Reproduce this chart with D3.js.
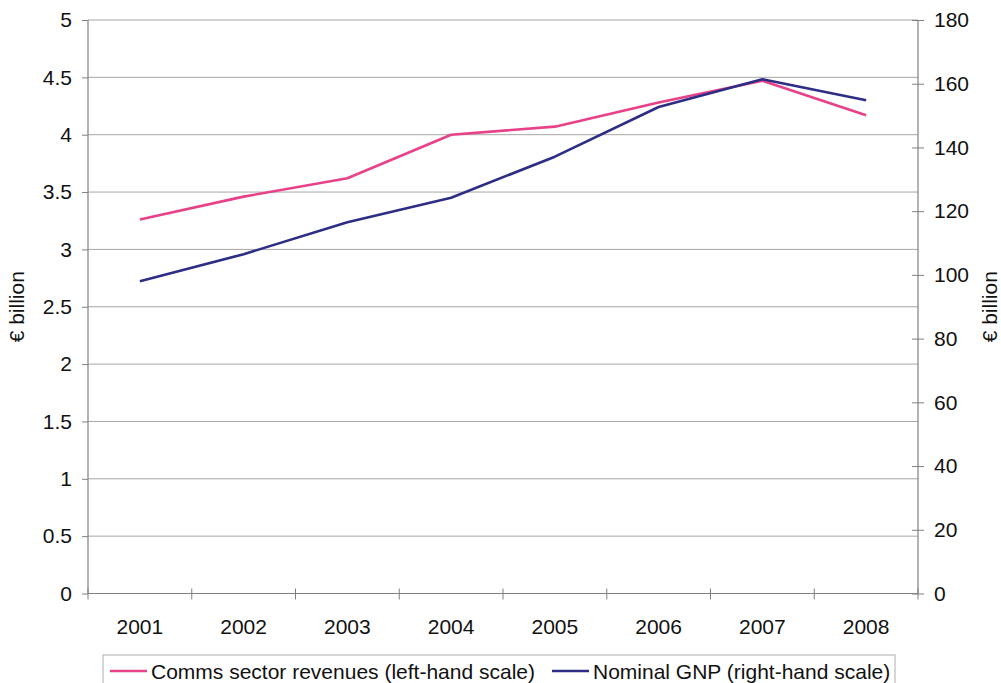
<!DOCTYPE html>
<html>
<head>
<meta charset="utf-8">
<script src="https://cdn.jsdelivr.net/npm/d3@7/dist/d3.min.js"></script>
<style>
  html, body { margin: 0; padding: 0; background: #fff; }
  svg { display: block; font-family: "Liberation Sans", Arial, sans-serif; }
</style>
</head>
<body>
<svg id="chart" width="1001" height="683"></svg>
<script>
// Years on the category axis
const years = ["2001", "2002", "2003", "2004", "2005", "2006", "2007", "2008"];
// Communications sector revenues, € billion (left-hand scale)
const commsRevenue = [3.26, 3.46, 3.62, 4.0, 4.07, 4.28, 4.47, 4.17];
// Nominal GNP, € billion (right-hand scale)
const nominalGNP = [98.0, 106.5, 116.5, 124.2, 137.1, 152.7, 161.4, 154.8];
// Axis tick values
const leftTicks = [0, 0.5, 1, 1.5, 2, 2.5, 3, 3.5, 4, 4.5, 5];
const rightTicks = [0, 20, 40, 60, 80, 100, 120, 140, 160, 180];
// Legend entries
const legendLabels = ["Comms sector revenues (left-hand scale)", "Nominal GNP (right-hand scale)"];

const pink = "#e8418a";
const navy = "#2d2d86";
const fontSize = 21;

const svg = d3.select("#chart");
const plot = { left: 88, right: 918, top: 20, bottom: 593.5 };

const x = d3.scaleBand().domain(years).range([plot.left, plot.right]);
const yL = d3.scaleLinear().domain([0, 5]).range([plot.bottom, plot.top]);
const yR = d3.scaleLinear().domain([0, 180]).range([plot.bottom, plot.top]);

// Horizontal gridlines
svg.append("g")
  .selectAll("line")
  .data(leftTicks.filter(d => d > 0))
  .join("line")
  .attr("x1", plot.left).attr("x2", plot.right)
  .attr("y1", d => yL(d)).attr("y2", d => yL(d))
  .attr("stroke", "#a6a6a6").attr("stroke-width", 1);

// Left axis
const gL = svg.append("g").attr("transform", `translate(${plot.left},0)`)
  .call(d3.axisLeft(yL).tickValues(leftTicks).tickFormat(d3.format("")).tickSize(6).tickPadding(10));
// Right axis
const gR = svg.append("g").attr("transform", `translate(${plot.right},0)`)
  .call(d3.axisRight(yR).tickValues(rightTicks).tickFormat(d3.format("d")).tickSize(6).tickPadding(10));
gR.selectAll(".tick line").attr("x1", -6);

// Bottom axis: ticks on category boundaries
const gB = svg.append("g").attr("transform", `translate(0,${plot.bottom})`)
  .call(d3.axisBottom(x).tickSize(0).tickPadding(26));
gB.append("g").selectAll("line")
  .data(d3.range(years.length + 1))
  .join("line")
  .attr("x1", i => plot.left + i * x.step()).attr("x2", i => plot.left + i * x.step())
  .attr("y1", -5).attr("y2", 6)
  .attr("stroke", "#808080");

[gL, gR, gB].forEach(g => {
  g.select(".domain").attr("stroke", "#808080").attr("stroke-width", 1.2);
  g.selectAll(".tick line").attr("stroke", "#808080");
  g.selectAll("text").attr("font-size", fontSize).attr("fill", "#111")
    .attr("font-family", "'Liberation Sans', Arial, sans-serif");
});
gL.select(".domain").attr("d", `M0,${plot.bottom}V${plot.top}`);
gR.select(".domain").attr("d", `M0,${plot.bottom}V${plot.top}`);
gB.select(".domain").attr("d", `M${plot.left},0H${plot.right}`);

// Axis titles
svg.append("text")
  .attr("transform", `translate(24,${(plot.top + plot.bottom) / 2}) rotate(-90)`)
  .attr("text-anchor", "middle").attr("font-size", fontSize).attr("fill", "#111")
  .text("€ billion");
svg.append("text")
  .attr("transform", `translate(997,${(plot.top + plot.bottom) / 2}) rotate(-90)`)
  .attr("text-anchor", "middle").attr("font-size", fontSize).attr("fill", "#111")
  .text("€ billion");

// Series lines
const cx = d => x(d) + x.bandwidth() / 2;
svg.append("path")
  .datum(years.map((yr, i) => [cx(yr), yL(commsRevenue[i])]))
  .attr("d", d3.line())
  .attr("fill", "none").attr("stroke", pink).attr("stroke-width", 2.6)
  .attr("stroke-linejoin", "round");
svg.append("path")
  .datum(years.map((yr, i) => [cx(yr), yR(nominalGNP[i])]))
  .attr("d", d3.line())
  .attr("fill", "none").attr("stroke", navy).attr("stroke-width", 2.6)
  .attr("stroke-linejoin", "round");

// Legend
const legend = svg.append("g");
legend.append("rect")
  .attr("x", 103).attr("y", 655).attr("width", 792).attr("height", 40)
  .attr("fill", "#fff").attr("stroke", "#bbb").attr("stroke-width", 1.2);
const entries = [
  { label: legendLabels[0], color: pink, x: 110 },
  { label: legendLabels[1], color: navy, x: 552 }
];
entries.forEach(e => {
  legend.append("line")
    .attr("x1", e.x).attr("x2", e.x + 37)
    .attr("y1", 671).attr("y2", 671)
    .attr("stroke", e.color).attr("stroke-width", 2.6);
  legend.append("text")
    .attr("x", e.x + 41).attr("y", 678.5)
    .attr("font-size", fontSize).attr("fill", "#111")
    .text(e.label);
});
</script>
</body>
</html>
